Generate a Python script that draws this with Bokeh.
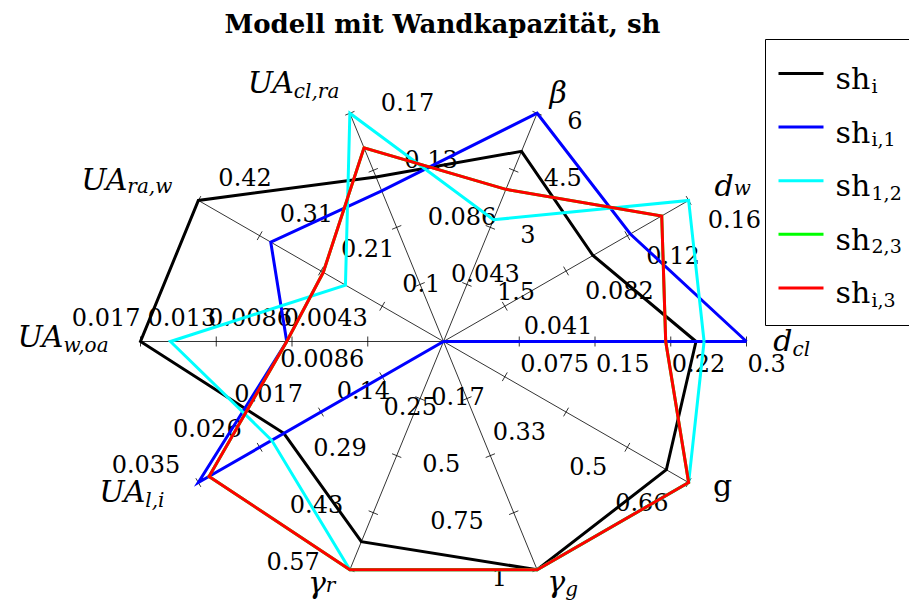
import numpy as np
from bokeh.plotting import figure
from bokeh.models import Range1d
from bokeh.core.properties import value
from bokeh.embed import file_html
from bokeh.resources import INLINE

# ---- data -----------------------------------------------------------------
# Radar axes, counter-clockwise starting at the right
axis_main = ["d", "d", "β", "UA", "UA", "UA", "UA", "γ", "γ", "g"]
axis_sub = ["cl", "w", "", "cl,ra", "ra,w", "w,oa", "l,i", "r", "g", ""]
axis_max = [0.3, 0.164, 6.0, 0.172, 0.42, 0.0172, 0.0344, 0.57, 1.0, 0.66]
tick_labels = [
    ["0.075", "0.15", "0.22", "0.3"],
    ["0.041", "0.082", "0.12", "0.16"],
    ["1.5", "3", "4.5", "6"],
    ["0.043", "0.086", "0.13", "0.17"],
    ["0.1", "0.21", "0.31", "0.42"],
    ["0.0043", "0.0086", "0.013", "0.017"],
    ["0.0086", "0.017", "0.026", "0.035"],
    ["0.14", "0.29", "0.43", "0.57"],
    ["0.25", "0.5", "0.75", "1"],
    ["0.17", "0.33", "0.5", "0.66"],
]

sh_i = [0.25, 0.10, 5.0, 0.124, 0.42, 0.0172, 0.0224, 0.50, 1.0, 0.60]
sh_i1 = [0.30, 0.125, 6.0, 0.1135, 0.296, 0.0089, 0.0344, 0.0, 0.0, 0.0]
sh_12 = [0.258, 0.164, 3.2, 0.172, 0.168, 0.0155, 0.0241, 0.57, 1.0, 0.66]
sh_23 = [0.22, 0.146, 4.0, 0.146, 0.206, 0.0089, 0.0329, 0.57, 1.0, 0.66]
sh_i3 = [0.22, 0.146, 4.0, 0.146, 0.206, 0.0089, 0.0329, 0.57, 1.0, 0.66]

series = [sh_i, sh_i1, sh_12, sh_23, sh_i3]
series_sub = ["i", "i,1", "1,2", "2,3", "i,3"]
series_color = ["#000000", "#0000ff", "#00ffff", "#00ff00", "#ff0000"]

title = "Modell mit Wandkapazität, sh"

# ---- geometry ---------------------------------------------------------------
W, H = 909, 608
CX, CY = 443, 341          # radar centre (pixels)
RX, RY = 303, 240          # radar radii (pixels)
n_axes = len(axis_main)
theta = np.arange(n_axes) * 2 * np.pi / n_axes


def X(px):
    return (px - CX) / RX


def Y(py):
    return (CY - py) / RY


def ddx(off):
    return off / RX


def ddy(off):
    return -off / RY


p = figure(width=W, height=H, output_backend="svg", toolbar_location=None,
           x_range=Range1d(X(0), X(W)), y_range=Range1d(Y(H), Y(0)),
           x_axis_type=None, y_axis_type=None,
           min_border=0, min_border_left=0, min_border_right=0,
           min_border_top=0, min_border_bottom=0)
p.grid.visible = False
p.outline_line_color = None
p.background_fill_color = "white"
p.border_fill_color = "white"

SERIF = value("DejaVu Serif")

# spokes
p.segment(x0=[0.0] * n_axes, y0=[0.0] * n_axes,
          x1=list(np.cos(theta)), y1=list(np.sin(theta)),
          line_color="black", line_width=0.8)

# tick marks, perpendicular to each spoke on screen
tx0, ty0, tx1, ty1 = [], [], [], []
for k in range(n_axes):
    ux, uy = RX * np.cos(theta[k]), -RY * np.sin(theta[k])
    nrm = np.hypot(ux, uy)
    ux, uy = ux / nrm, uy / nrm
    nx, ny = -uy, ux
    for j in range(1, 5):
        r = j / 4
        x, y = r * np.cos(theta[k]), r * np.sin(theta[k])
        tx0.append(x - ddx(5 * nx)); ty0.append(y - ddy(5 * ny))
        tx1.append(x + ddx(5 * nx)); ty1.append(y + ddy(5 * ny))
p.segment(x0=tx0, y0=ty0, x1=tx1, y1=ty1, line_color="black", line_width=0.8)

# tick labels: (alignment, dx, dy) relative to the tick, in pixels
tick_label_style = [("left", 1, 21), ("left", 19, 19), ("left", 30, 7),
                    ("left", 31, -11), ("left", 20, -23), ("right", 0, -25),
                    ("right", -18, -19), ("right", -30, -9), ("right", -30, 7),
                    ("right", -20, 19)]
for k in range(n_axes):
    align, ox, oy = tick_label_style[k]
    rs = np.arange(1, 5) / 4
    xs = list(rs * np.cos(theta[k]) + ddx(ox))
    ys = list(rs * np.sin(theta[k]) + ddy(oy))
    p.text(x=xs, y=ys, text=tick_labels[k], text_font=SERIF,
           text_font_size=value("24px"), text_align=align,
           text_baseline="middle", text_color="black")

# spoke names: (mode, dx, dy main, dy subscript), vertical centres in pixels
name_style = [("split", 46, -1, 7), ("split", 45, -15, -12), ("center", 21, -21, 0),
              ("split", -56, -31, -22), ("split", -71, -21, -14), ("split", -77, -5, 3),
              ("split", -53, 9, 17), ("split", -24, 13, 15), ("split", 28, 12, 19),
              ("center", 34, 3, 0)]
for k in range(n_axes):
    mode, ox, oy, osub = name_style[k]
    ex, ey = np.cos(theta[k]), np.sin(theta[k])
    style = "normal" if axis_main[k] == "g" else "italic"
    if mode == "center":
        p.text(x=[ex + ddx(ox)], y=[ey + ddy(oy)], text=[axis_main[k]],
               text_font=SERIF, text_font_size=value("30px"),
               text_font_style=style, text_align="center",
               text_baseline="middle", text_color="black")
    else:
        p.text(x=[ex + ddx(ox)], y=[ey + ddy(oy)], text=[axis_main[k]],
               text_font=SERIF, text_font_size=value("30px"),
               text_font_style=style, text_align="right",
               text_baseline="middle", text_color="black")
        p.text(x=[ex + ddx(ox)], y=[ey + ddy(osub)], text=[axis_sub[k]],
               text_font=SERIF, text_font_size=value("20px"),
               text_font_style="italic", text_align="left",
               text_baseline="middle", text_color="black")

# data polygons
for vals, col in zip(series, series_color):
    r = np.array(vals) / np.array(axis_max)
    xs = list(r * np.cos(theta)) + [r[0] * np.cos(theta[0])]
    ys = list(r * np.sin(theta)) + [r[0] * np.sin(theta[0])]
    p.line(x=xs, y=ys, line_color=col, line_width=3, line_join="miter")

# title
p.text(x=[X(442)], y=[Y(23)], text=[title], text_font=SERIF,
       text_font_size=value("26px"), text_font_style="bold",
       text_align="center", text_baseline="middle", text_color="black")

# legend box
p.quad(left=[X(765)], right=[X(930)], top=[Y(39)], bottom=[Y(325)],
       fill_color="white", line_color="black", line_width=1)
for i, (sub, col) in enumerate(zip(series_sub, series_color)):
    ly = 73 + i * 53.6
    p.line(x=[X(778), X(823)], y=[Y(ly), Y(ly)], line_color=col, line_width=3)
    p.text(x=[X(835)], y=[Y(ly + 5)], text=["sh"], text_font=SERIF,
           text_font_size=value("30px"), text_align="left",
           text_baseline="middle", text_color="black")
    p.text(x=[X(871)], y=[Y(ly + 12)], text=[sub], text_font=SERIF,
           text_font_size=value("19px"), text_align="left",
           text_baseline="middle", text_color="black")

open("out.html", "w").write(file_html(p, INLINE))
